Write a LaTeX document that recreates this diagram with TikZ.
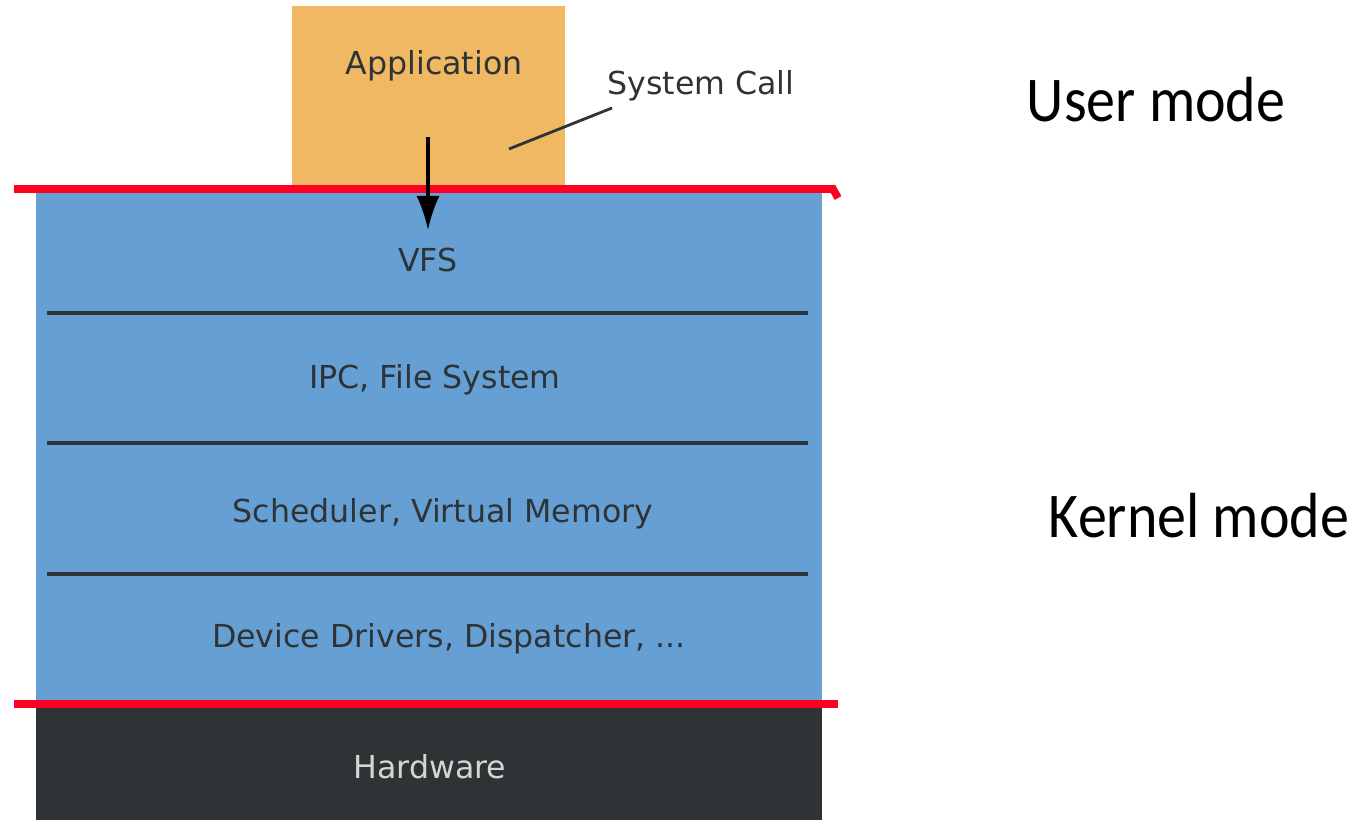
\documentclass[tikz,border=0pt]{standalone}
\usepackage{graphicx}
\usepackage{fontspec}
\setmainfont{DejaVu Sans}
\newfontfamily\modefont{Carlito}
\usetikzlibrary{arrows.meta,positioning}

\definecolor{appcol}{HTML}{F0B862}
\definecolor{kernelcol}{HTML}{659FD4}
\definecolor{hwcol}{HTML}{2E3436}
\definecolor{txtcol}{HTML}{2E3436}
\definecolor{hwtxt}{HTML}{D3D7CF}
\definecolor{bordercol}{HTML}{FF0022}

\begin{document}
\begin{tikzpicture}[
  layer/.style={font=\fontsize{9}{11}\selectfont,text=txtcol,anchor=base,inner sep=0pt},
  mode/.style={font=\modefont\fontsize{16.5}{20}\selectfont,anchor=base,inner sep=0pt},
  sep/.style={draw=txtcol,line width=1pt},
  border/.style={draw=bordercol,line width=2.2pt}]
\useasboundingbox (0,0) rectangle (13.69,8.2);

% layers
\fill[appcol] (2.92,6.31) rectangle (5.65,8.14);
\fill[kernelcol] (0.36,1.17) rectangle (8.22,6.31);
\fill[hwcol] (0.36,0) rectangle (8.22,1.17);

\draw[sep] (0.47,5.07) -- (8.08,5.07);
\draw[sep] (0.47,3.77) -- (8.08,3.77);
\draw[sep] (0.47,2.46) -- (8.08,2.46);

% mode boundaries
\draw[border] (0.14,6.31) -- (8.33,6.31) -- (8.38,6.22);
\draw[border] (0.14,1.16) -- (8.38,1.16);

% labels
\node[layer] (app) at (4.34,7.45) {Application};
\node[layer] (syscall) at (7.01,7.25) {System Call};
\node[layer] (vfs) at (4.28,5.48) {VFS};
\node[layer] (ipc) at (4.35,4.31) {IPC, File System};
\node[layer] (sched) at (4.43,2.97) {Scheduler, Virtual Memory};
\node[layer] (drivers) at (4.49,1.72) {Device Drivers, Dispatcher, ...};
\node[layer,text=hwtxt] (hw) at (4.30,0.42) {Hardware};

\node[mode] (usermode) at (11.56,6.98) {\scalebox{1}[1.1]{User mode}};
\node[mode] (kernelmode) at (11.99,2.82) {\scalebox{1}[1.1]{Kernel mode}};

% system call
\coordinate (callstart) at (4.28,6.83);
\coordinate (callend) at (4.28,5.90);
\coordinate (callpoint) at (5.09,6.71);
\coordinate (calltag) at (6.12,7.12);
\draw[-{Latex[length=3.4mm,width=2.3mm]},line width=0.9pt] (callstart) -- (callend);
\draw[line width=0.8pt,txtcol] (calltag) -- (callpoint);
\end{tikzpicture}
\end{document}
